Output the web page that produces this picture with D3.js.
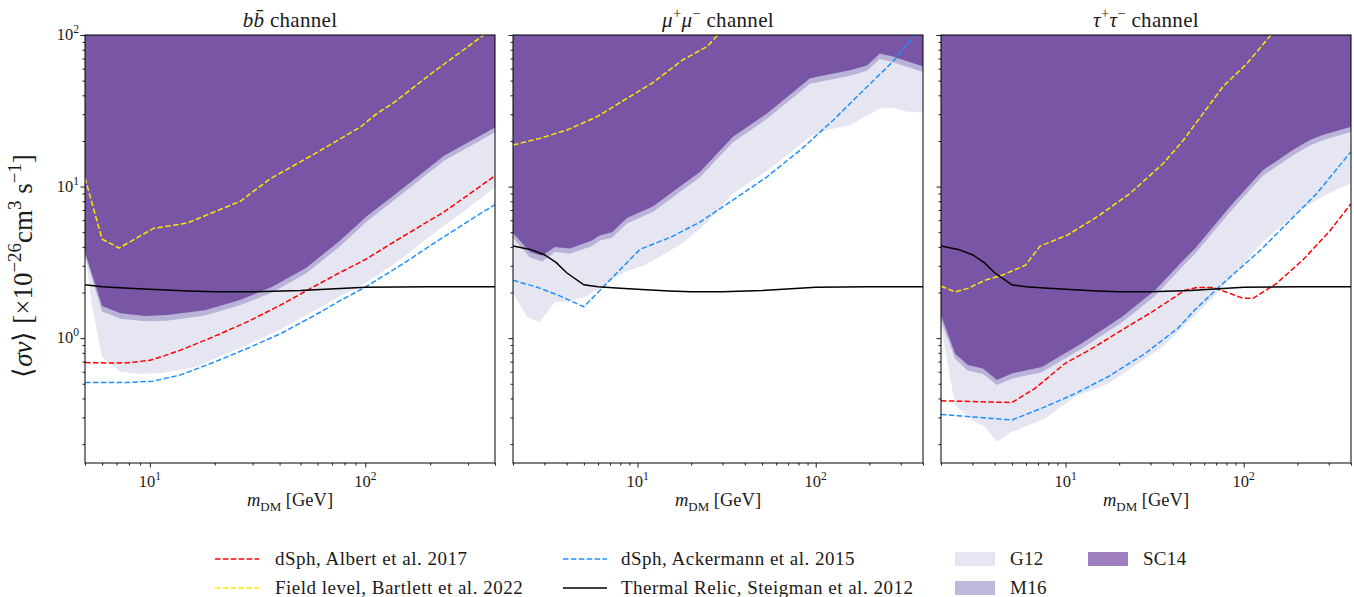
<!DOCTYPE html>
<html><head><meta charset="utf-8">
<script src="https://cdn.jsdelivr.net/npm/d3@7"></script>
<style>
body{margin:0;background:#fff}
svg text{font-family:"Liberation Serif","Times New Roman",serif;fill:#1a1a1a}
</style>
</head><body>
<svg id="c" width="1354" height="597"></svg>
<script>
// ---------------- DATA ([mass GeV, <sigma v> in 1e-26 cm^3/s]) ----------------
const channels = ["bb", "mumu", "tautau"];
const massRanges = {bb:[5,400], mumu:[2,400], tautau:[2,400]};
const yRange = [0.15, 100];
const xTickLabels = [10, 100];
const yTickLabels = [1, 10, 100];

const thermalRelic = [[2,4.05],[2.5,3.85],[3,3.55],[3.5,3.15],[4,2.7],[5,2.25],[6,2.18],[8,2.13],[10,2.1],[15,2.05],[20,2.02],[30,2.02],[50,2.06],[100,2.17],[200,2.18],[400,2.18]];

// b bbar
const bbG12 = [[5,3.7],[5.4,1.6],[6,0.75],[7.3,0.6],[9,0.58],[11.5,0.59],[16,0.64],[20,0.73],[28,0.9],[40,1.13],[57,1.5],[76,1.88],[100,2.3],[150,3.4],[207,4.9],[300,7.2],[400,9.9]];
const bbM16 = [[5,3.5],[6,1.5],[7.3,1.34],[9.5,1.29],[12,1.3],[18,1.41],[26,1.64],[37,2.0],[53,2.67],[75,3.95],[102,5.9],[146,8.8],[232,14.8],[400,22.8]];
const bbSC14 = [[5,3.7],[6,1.63],[7.3,1.46],[9.5,1.4],[12,1.42],[18,1.53],[26,1.78],[37,2.18],[53,2.9],[75,4.3],[102,6.4],[146,9.5],[232,16],[400,24.5]];
const bbAlbert = [[5,0.69],[6.5,0.685],[8,0.688],[10,0.715],[11.2,0.75],[13.8,0.83],[19.7,1.02],[28.3,1.28],[40.4,1.65],[57.5,2.18],[76,2.7],[100,3.3],[150,4.7],[232,6.8],[300,8.8],[400,11.8]];
const bbAckermann = [[5,0.51],[8,0.51],[10.4,0.52],[13.8,0.57],[19.7,0.69],[28.3,0.855],[40.4,1.07],[57.5,1.4],[76,1.76],[100,2.17],[150,3.1],[200,4.07],[300,5.9],[400,7.6]];
const bbBartlett = [[5,11.4],[6,4.5],[7.2,3.93],[10.4,5.3],[14.9,5.74],[26.3,8.0],[36,11.2],[57.5,16.3],[95,24.7],[114,30.6],[135,35.6],[207,57],[355,100],[400,113]];

// mu+ mu-
const mmG12 = [[2,1.98],[2.4,1.38],[2.83,1.28],[3.44,1.74],[4.07,1.74],[5.07,1.87],[8.5,2.74],[11,3.03],[17.7,4.2],[23.9,5.6],[34.3,9.0],[53,12.6],[92.9,21.3],[115.6,23.6],[155.6,25.4],[229,32.8],[271,33.1],[325,31.2],[400,30.8]];
const mmM16 = [[2,4.6],[2.49,3.4],[2.91,3.2],[3.44,3.7],[4.18,3.6],[5.55,4.05],[6.16,4.4],[7.19,4.6],[8.72,5.7],[12.2,6.8],[17.3,9.2],[22.4,11.5],[34.3,19.6],[53.3,28],[92.9,47.7],[155.6,53.8],[194,58],[229,69.5],[271,66.2],[400,57]];
const mmSC14 = [[2,4.93],[2.49,3.7],[2.91,3.5],[3.44,4.0],[4.18,3.9],[5.55,4.4],[6.16,4.78],[7.19,5.0],[8.72,6.2],[12.2,7.4],[17.3,10],[22.4,12.5],[34.3,21.3],[53.3,30.4],[92.9,51.9],[155.6,58.5],[194,63],[229,75.6],[271,72],[400,62]];
const mmAckermann = [[2,2.41],[2.76,2.16],[3.58,1.92],[5,1.61],[10.3,3.85],[15.6,4.67],[22.5,5.85],[34.3,8.15],[53.3,11.6],[81.9,17.4],[125.6,27.5],[194,45.5],[271,66.8],[360,100],[400,112]];
const mmBartlett = [[2,18.8],[2.83,20.8],[4.02,23.6],[5.93,28.9],[8.72,38.2],[12.1,48.2],[17.9,68.4],[24.6,84],[28.2,100],[40,140]];

// tau+ tau-
const ttG12 = [[2,1.2],[2.4,0.36],[2.98,0.288],[3.53,0.26],[4.12,0.207],[5,0.24],[7.66,0.295],[11.3,0.41],[17.3,0.5],[35.3,0.88],[67,1.85],[100,3.1],[128,4.3],[150,5.1],[200,6.7],[244,7.9],[300,9.0],[400,10.5]];
const ttM16 = [[2,1.3],[2.4,0.73],[2.83,0.61],[3.44,0.58],[4.12,0.49],[5,0.54],[7.37,0.595],[12.3,0.85],[20.7,1.27],[31.8,1.9],[45.8,3.0],[53.3,3.6],[83.8,6.8],[128,11.8],[189.5,16.1],[234,18.6],[275,20.1],[400,22.9]];
const ttSC14 = [[2,1.42],[2.4,0.79],[2.83,0.664],[3.44,0.63],[4.12,0.53],[5,0.585],[7.37,0.646],[12.3,0.92],[20.7,1.38],[31.8,2.07],[45.8,3.27],[53.3,3.9],[83.8,7.4],[128,12.8],[189.5,17.5],[234,20.2],[275,21.8],[400,24.8]];
const ttAlbert = [[2,0.386],[5,0.376],[6.72,0.465],[9.92,0.68],[14.1,0.855],[20.7,1.13],[30.6,1.49],[46.8,2.07],[54.6,2.16],[67.2,2.16],[83.8,1.97],[99,1.83],[113,1.83],[153,2.3],[216,3.3],[300,5.0],[400,7.7]];
const ttAckermann = [[2,0.314],[5,0.288],[7.66,0.352],[11.3,0.43],[17.3,0.556],[27.9,0.79],[42.6,1.16],[53,1.53],[72.8,2.18],[124,3.8],[257,9.0],[400,17]];
const ttBartlett = [[2,2.2],[2.4,2.02],[2.83,2.13],[3.53,2.41],[4.4,2.6],[5.96,3.03],[7.2,4.05],[10.3,4.8],[15,6.3],[23,9.0],[35.3,14.2],[45.8,20.2],[59.2,30.4],[76.6,45.7],[104.5,65],[137,95],[180,140]];

const bandNames = ["G12", "M16", "SC14"];
const bandColors = {G12:"#e6e6f2", M16:"#b9b3d8", SC14:"#7856a5"};
const legendBandColors = {G12:"#e6e6f2", M16:"#bcb9da", SC14:"#9e7ebe"};
const lineNames = ["dSph, Albert et al. 2017", "Field level, Bartlett et al. 2022", "dSph, Ackermann et al. 2015", "Thermal Relic, Steigman et al. 2012"];
const lineColors = ["#ff0000", "#ffe800", "#1e90ff", "#000000"];
const lineDashed = [true, true, true, false];

const panelData = {
  bb: {bands:{G12:bbG12, M16:bbM16, SC14:bbSC14}, lines:[bbAlbert, bbBartlett, bbAckermann, thermalRelic]},
  mumu: {bands:{G12:mmG12, M16:mmM16, SC14:mmSC14}, lines:[null, mmBartlett, mmAckermann, thermalRelic]},
  tautau: {bands:{G12:ttG12, M16:ttM16, SC14:ttSC14}, lines:[ttAlbert, ttBartlett, ttAckermann, thermalRelic]}
};
const titles = {
  bb: [{t:"b",it:true},{t:"b\u0304",it:true},{t:" channel"}],
  mumu: [{t:"\u03bc",it:true},{t:"+",sup:true},{t:"\u03bc",it:true},{t:"\u2212",sup:true},{t:" channel"}],
  tautau: [{t:"\u03c4",it:true},{t:"+",sup:true},{t:"\u03c4",it:true},{t:"\u2212",sup:true},{t:" channel"}]
};

// ---------------- LAYOUT ----------------
const lefts = [85, 513, 941];
const PW = 410, TOP = 35, BOT = 463;
const svg = d3.select("#c");

function rich(sel, parts, size){
  let shift = 0;
  parts.forEach(p=>{
    const target = p.sup ? -0.42*size : (p.sub ? 0.28*size : 0);
    const ts = sel.append("tspan").text(p.t).attr("dy", target - shift);
    shift = target;
    if (p.sup || p.sub) ts.attr("font-size", size*0.7);
    if (p.it) ts.attr("font-style","italic");
  });
}

const y = d3.scaleLog().domain(yRange).range([BOT, TOP]);
function minorTicks(domain){
  const out = [];
  for (let e = -2; e <= 3; e++) for (let k = 1; k <= 9; k++){
    const v = k*Math.pow(10,e);
    if (v >= domain[0]*0.999 && v <= domain[1]*1.001 && k !== 1) out.push(v);
  }
  return out;
}

const defs = svg.append("defs");
channels.forEach((ch, i)=>{
  const L = lefts[i];
  const x = d3.scaleLog().domain(massRanges[ch]).range([L, L+PW]);
  const cid = "clip"+i;
  defs.append("clipPath").attr("id", cid).append("rect").attr("x", L).attr("y", TOP).attr("width", PW).attr("height", BOT-TOP);
  const g = svg.append("g");
  const plot = g.append("g").attr("clip-path", `url(#${cid})`);
  const pd = panelData[ch];
  const area = d3.area().x(d=>x(d[0])).y0(d=>y(d[1])).y1(TOP-50);
  bandNames.forEach(b=>{
    plot.append("path").datum(pd.bands[b]).attr("d", area).attr("fill", bandColors[b]);
  });
  const line = d3.line().x(d=>x(d[0])).y(d=>y(d[1]));
  pd.lines.forEach((arr, k)=>{
    if (!arr) return;
    plot.append("path").datum(arr).attr("d", line).attr("fill","none")
      .attr("stroke", lineColors[k]).attr("stroke-width", 1.5)
      .attr("stroke-dasharray", lineDashed[k] ? "5.5,2.4" : null);
  });
  // x axis
  const xMajor = xTickLabels.filter(v=>v>=massRanges[ch][0] && v<=massRanges[ch][1]);
  g.append("g").attr("transform",`translate(0,${BOT})`)
    .call(d3.axisBottom(x).tickValues(xMajor).tickSize(4.5).tickFormat("").tickSizeOuter(0))
    .call(s=>s.select(".domain").remove());
  g.append("g").attr("transform",`translate(0,${BOT})`)
    .call(d3.axisBottom(x).tickValues(minorTicks(massRanges[ch])).tickSize(2.5).tickFormat("").tickSizeOuter(0))
    .call(s=>s.select(".domain").remove());
  xMajor.forEach(v=>{
    const t = g.append("text").attr("x", x(v)).attr("y", BOT+24).attr("text-anchor","middle").attr("font-size",16.5);
    rich(t, [{t:"10"},{t:String(Math.round(Math.log10(v))),sup:true}], 16.5);
  });
  // y axis
  g.append("g").attr("transform",`translate(${L},0)`)
    .call(d3.axisLeft(y).tickValues(yTickLabels).tickSize(4.5).tickFormat("").tickSizeOuter(0))
    .call(s=>s.select(".domain").remove());
  g.append("g").attr("transform",`translate(${L},0)`)
    .call(d3.axisLeft(y).tickValues(minorTicks(yRange)).tickSize(2.5).tickFormat("").tickSizeOuter(0))
    .call(s=>s.select(".domain").remove());
  if (i === 0){
    yTickLabels.forEach(v=>{
      const t = g.append("text").attr("x", L-6).attr("y", y(v)+5).attr("text-anchor","end").attr("font-size",16.5);
      rich(t, [{t:"10"},{t:String(Math.round(Math.log10(v))),sup:true}], 16.5);
    });
  }
  g.selectAll(".tick line").attr("stroke","#000").attr("stroke-width",0.9);
  // frame
  g.append("rect").attr("x", L).attr("y", TOP).attr("width", PW).attr("height", BOT-TOP)
    .attr("fill","none").attr("stroke","#000").attr("stroke-width",1);
  // title
  const tt = g.append("text").attr("x", L+PW/2).attr("y", 27).attr("text-anchor","middle").attr("font-size",21).attr("letter-spacing",0.3);
  rich(tt, titles[ch], 21);
  // x label
  const xl = g.append("text").attr("x", L+PW/2).attr("y", 506).attr("text-anchor","middle").attr("font-size",18.5);
  rich(xl, [{t:"m",it:true},{t:"DM",sub:true},{t:" [GeV]"}], 18.5);
});

// y label
const yl = svg.append("text").attr("transform","translate(32,266) rotate(-90)").attr("text-anchor","middle").attr("font-size",27);
rich(yl, [{t:"\u27e8"},{t:"\u03c3v",it:true},{t:"\u27e9 [\u00d710"},{t:"\u221226",sup:true},{t:"cm"},{t:"3",sup:true},{t:" s"},{t:"\u22121",sup:true},{t:"]"}], 27);

// legend
const leg = svg.append("g");
const lineEntries = [
  {col:0,row:0,k:0},{col:0,row:1,k:1},{col:1,row:0,k:2},{col:1,row:1,k:3}
];
const colLineX = [215, 563], colTextX = [275, 621], rowY = [559, 588];
lineEntries.forEach(e=>{
  leg.append("line").attr("x1", colLineX[e.col]).attr("x2", colLineX[e.col]+44)
    .attr("y1", rowY[e.row]).attr("y2", rowY[e.row])
    .attr("stroke", lineColors[e.k]).attr("stroke-width",1.5)
    .attr("stroke-dasharray", lineDashed[e.k] ? "5.5,2.4" : null);
  leg.append("text").attr("x", colTextX[e.col]).attr("y", rowY[e.row]+6).attr("font-size",19).attr("letter-spacing",0.5).text(lineNames[e.k]);
});
const bandEntries = [{name:"G12",x:955,row:0},{name:"M16",x:955,row:1},{name:"SC14",x:1088,row:0}];
bandEntries.forEach(e=>{
  leg.append("rect").attr("x", e.x).attr("y", rowY[e.row]-7).attr("width",40).attr("height",14).attr("fill", legendBandColors[e.name]);
  leg.append("text").attr("x", e.x+55).attr("y", rowY[e.row]+6).attr("font-size",19).attr("letter-spacing",0.3).text(e.name);
});
</script>
</body></html>
